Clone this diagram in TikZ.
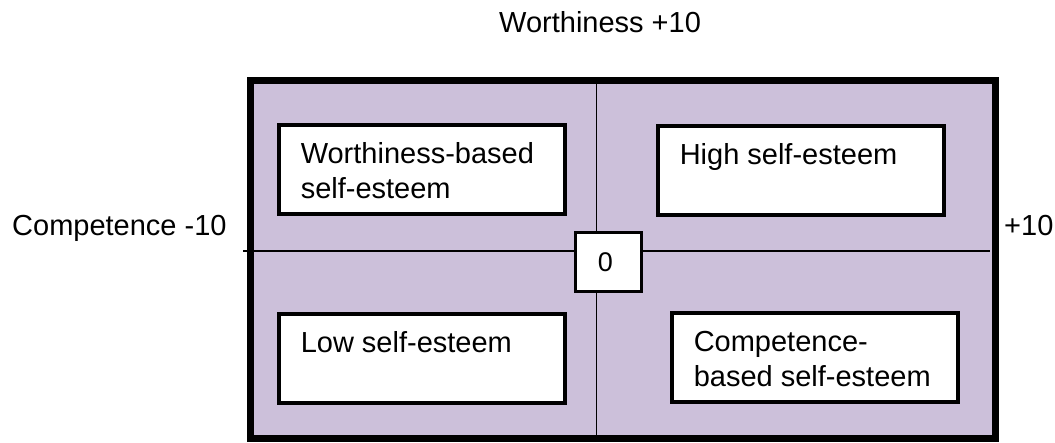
\documentclass[tikz,border=0pt]{standalone}
\usepackage{fontspec}
\setmainfont{Liberation Sans}
\definecolor{quadfill}{RGB}{204,192,218}
\newcommand{\qtext}[1]{\parbox[t][53pt][t]{242pt}{\raggedright #1}}
\begin{document}
\begin{tikzpicture}[x=1pt, y=-1pt,
    every node/.style={font=\fontsize{29}{35}\selectfont},
    qbox/.style={draw, line width=3.5pt, fill=white, anchor=north west,
                 inner xsep=22pt, inner ysep=18pt},
    axis/.style={line width=1.5pt}]
    \useasboundingbox (0,0) rectangle (1055,442);

    \node (frame) [draw, line width=7pt, fill=quadfill, inner sep=0pt,
                   minimum width=745pt, minimum height=358pt] at (623, 259) {};

    \coordinate (wtop)  at (596.5,  80);
    \coordinate (wbot)  at (596.5, 438);
    \coordinate (cleft) at (243,   251);
    \coordinate (cright) at (990,  251);

    \draw[axis] (wtop) -- (wbot);
    \draw[axis] (cleft) -- (cright);

    \node (worth) [qbox] at (277, 123) {\qtext{Worthiness-based\\self-esteem}};
    \node (high)  [qbox] at (656, 124) {\qtext{High self-esteem}};
    \node (low)   [qbox] at (277, 312) {\qtext{Low self-esteem}};
    \node (comp)  [qbox] at (670, 311) {\qtext{Competence-\\based self-esteem}};

    \node (zero) [draw, line width=3pt, fill=white, inner sep=0pt,
                  minimum width=66pt, minimum height=59pt,
                  font=\fontsize{27}{31}\selectfont] at (608.5, 262) {\hspace{-6pt}0};

    \node (wmax) [anchor=base west, inner sep=0pt] at (499,  32) {Worthiness +10};
    \node (cmin) [anchor=base west, inner sep=0pt] at (12,  235) {Competence -10};
    \node (cmax) [anchor=base west, inner sep=0pt] at (1004, 235) {+10};

  \end{tikzpicture}
\end{document}
